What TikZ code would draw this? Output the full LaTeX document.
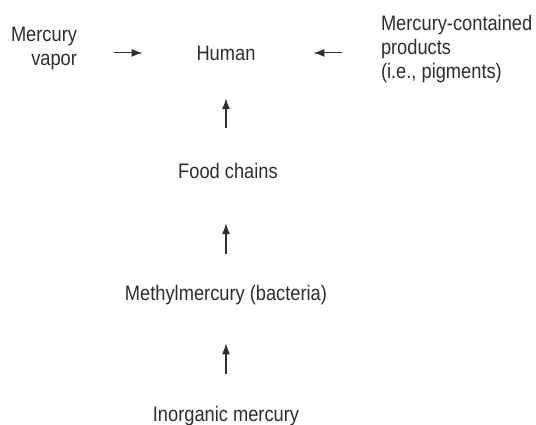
\documentclass[tikz,border=0pt]{standalone}
\usepackage{fontspec}
\setmainfont{Liberation Sans}[FakeStretch=0.87]
\usepackage{xcolor}
\usepackage{tikz}
\usetikzlibrary{arrows.meta,positioning}

\definecolor{inkgray}{HTML}{2E2E2E}

\begin{document}
\begin{tikzpicture}[
  x=1pt, y=1pt,
  lbl/.style={inner sep=0pt, outer sep=0pt, text=inkgray, font=\fontsize{21}{24}\selectfont},
  arr/.style={-{Latex[length=11pt, width=8pt]}, line width=1.2pt, draw=inkgray}
]
  \useasboundingbox (0,0) rectangle (536,-424);

  \node[lbl, anchor=base] (human) at (226,-60) {Human};
  \node[lbl, anchor=north east, align=right] (vapor) at (77,-27) {Mercury\\vapor};
  \node[lbl, anchor=north west, align=left] (prod) at (381,-15) {Mercury-contained\\products\\(i.e., pigments)};
  \node[lbl, anchor=base] (food) at (228,-178) {Food chains};
  \node[lbl, anchor=base] (methyl) at (226,-300) {Methylmercury (bacteria)};
  \node[lbl, anchor=base] (inorg) at (226,-421) {Inorganic mercury};

  \draw[arr, shorten <=37pt, shorten >=54pt] (vapor.east |- human.west) -- (human.west);
  \draw[arr, shorten <=39pt, shorten >=58pt] (prod.west |- human.east) -- (human.east);
  \draw[arr, shorten <=35pt, shorten >=38pt] (food.north -| human) -- (human.south);
  \draw[arr, shorten <=31pt, shorten >=45pt] (methyl.north -| human) -- (food.south -| human);
  \draw[arr, shorten <=32pt, shorten >=39pt] (inorg.north -| human) -- (methyl.south -| human);
\end{tikzpicture}
\end{document}
